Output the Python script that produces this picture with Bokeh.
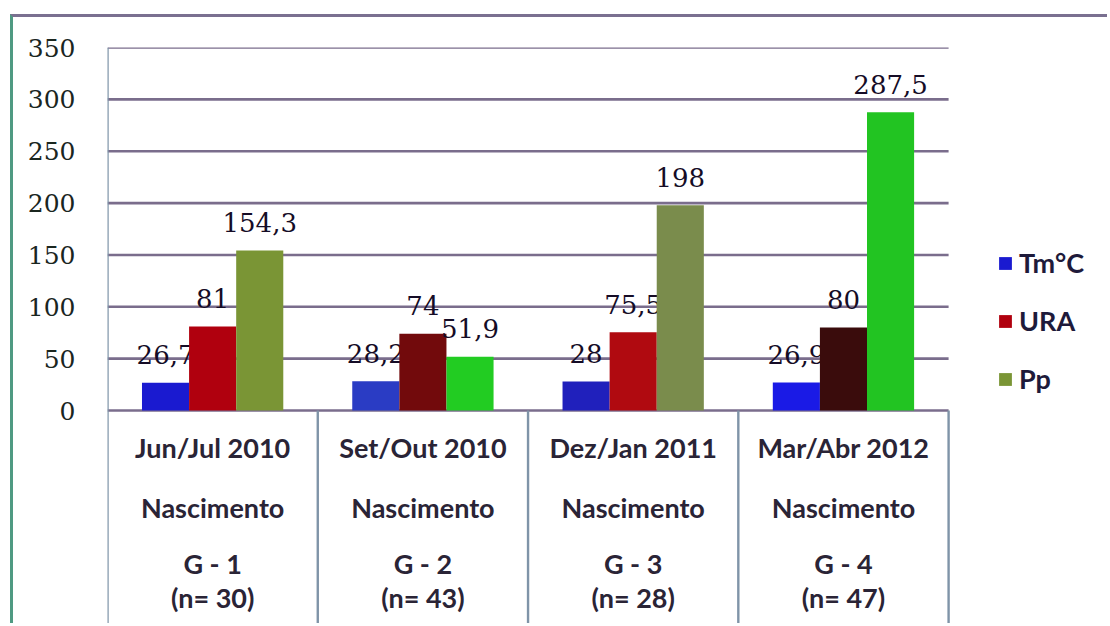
from bokeh.plotting import figure
from bokeh.models import Range1d, FixedTicker, Legend, LegendItem
from bokeh.core.properties import value
from bokeh.embed import file_html
from bokeh.resources import INLINE

# ---- data ----
periods = ["Jun/Jul 2010", "Set/Out 2010", "Dez/Jan 2011", "Mar/Abr 2012"]
stage = "Nascimento"
groups = ["G - 1", "G - 2", "G - 3", "G - 4"]
sizes = ["(n= 30)", "(n= 43)", "(n= 28)", "(n= 47)"]
series = ["Tm°C", "URA", "Pp"]
tm = [26.7, 28.2, 28, 26.9]
ura = [81, 74, 75.5, 80]
pp = [154.3, 51.9, 198, 287.5]
yticks = [0, 50, 100, 150, 200, 250, 300, 350]

# ---- styles ----
bar_colors = {
    "Tm°C": ["#1a1ad0", "#2a3cc4", "#2020bc", "#1a1ae6"],
    "URA": ["#b0000e", "#720a0c", "#b00a10", "#3a0c0c"],
    "Pp": ["#7a9535", "#22cc22", "#7a8c4c", "#22c422"],
}
bar_w = 0.224
offsets = [-bar_w, 0.0, bar_w]
y_bottom = -206.3
serif = value("DejaVu Serif")
sans = value("Lato")

p = figure(width=1097, height=609, output_backend="svg", toolbar_location=None,
           x_range=Range1d(0, 4.77), y_range=Range1d(y_bottom, 350),
           min_border_left=94, min_border_right=0, min_border_top=30, min_border_bottom=2,
           background_fill_color="white", border_fill_color="white")
p.styles = {"margin-left": "10px", "margin-top": "14px",
            "border-left": "3px solid #4f9a82", "border-top": "3px solid #7a7090"}
p.outline_line_color = None
p.xaxis.visible = False
p.xgrid.visible = False
p.ygrid.visible = False

yax = p.yaxis[0]
yax.ticker = FixedTicker(ticks=yticks)
yax.axis_line_color = None
yax.major_tick_line_color = None
yax.minor_tick_line_color = None
yax.major_tick_in = 0
yax.major_tick_out = 0
yax.major_label_standoff = 32
yax.major_label_text_font = "DejaVu Serif"
yax.major_label_text_font_size = "25px"
yax.major_label_text_color = "#1a261f"

n = len(periods)
centers = [i + 0.5 for i in range(n)]

# gridlines (only across the plot area)
p.segment(x0=0, y0=yticks, x1=n, y1=yticks, line_color="#7a6d8c", line_width=2.6)
# category separators
p.segment(x0=list(range(n + 1)), y0=[350] + [0] * n, x1=list(range(n + 1)), y1=y_bottom,
          line_color="#7f94a8", line_width=2.4)

items = []
for s, vals, off in zip(series, [tm, ura, pp], offsets):
    xs = [c + off for c in centers]
    r = p.vbar(x=xs, top=vals, bottom=0, width=bar_w, fill_color=bar_colors[s], line_color=None)
    items.append(LegendItem(label=s, renderers=[r], index=0))
    labels = [f"{v:g}".replace(".", ",") for v in vals]
    p.text(x=xs, y=vals, text=labels, text_font=serif, text_font_size="26px",
           text_color="#150c26", text_align="center", text_baseline="middle", y_offset=-28)

# category labels (below the baseline)
rows = [(periods, -35.7), ([stage] * n, -93.5), (groups, -147.5), (sizes, -180.3)]
for txt, yy in rows:
    p.text(x=centers, y=[yy] * n, text=txt, text_font=sans, text_font_size="27px",
           text_font_style="bold", text_color="#2a2436", text_align="center",
           text_baseline="middle")

legend = Legend(items=items, location=(890, 229), orientation="vertical",
                glyph_width=16, glyph_height=16, label_height=30, spacing=25,
                label_standoff=6, padding=0, margin=0,
                label_text_font="Lato", label_text_font_size="27px",
                label_text_font_style="bold", label_text_color="#1e1a3a",
                border_line_color=None, background_fill_alpha=0)
p.add_layout(legend)

open("out.html", "w").write(file_html(p, INLINE))
